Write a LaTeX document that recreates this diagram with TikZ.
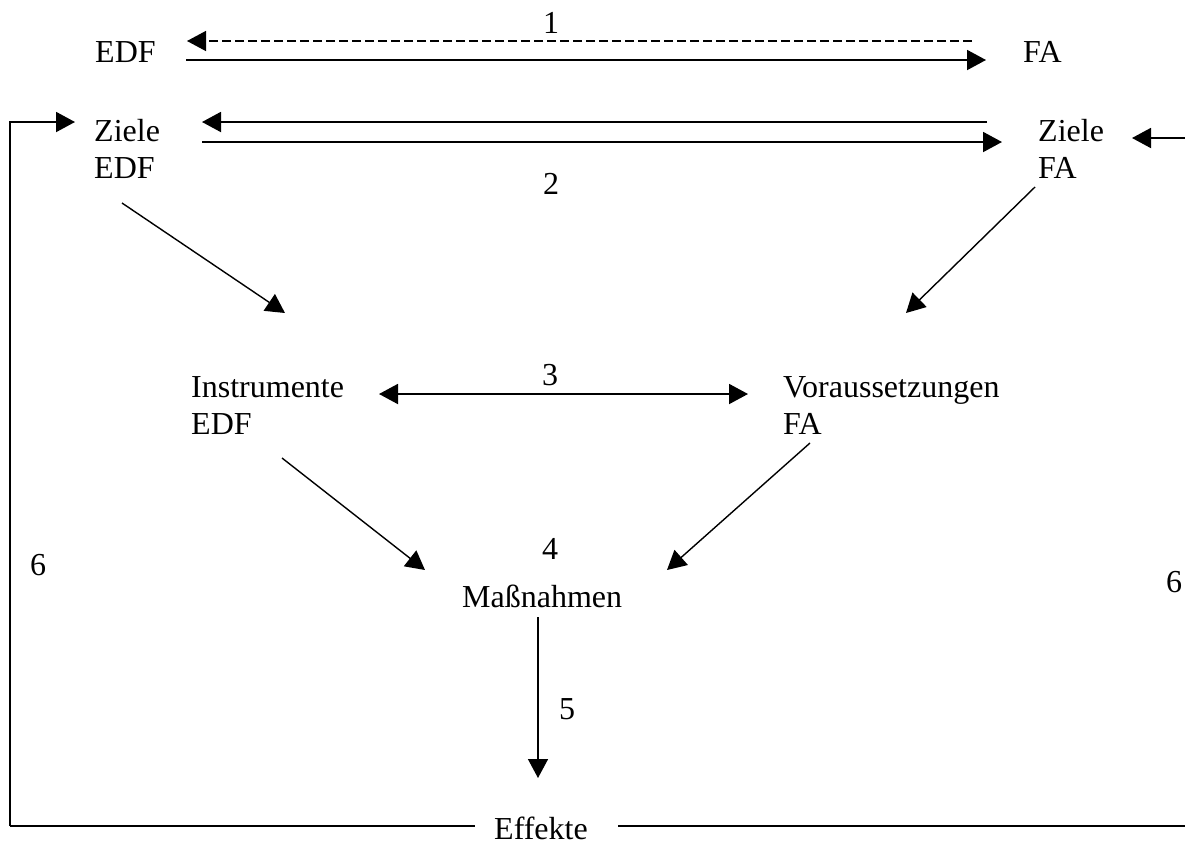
\documentclass[tikz,border=0pt]{standalone}
\usepackage{fontspec}
\setmainfont{Liberation Serif}
\usetikzlibrary{arrows.meta}
\begin{document}
\begin{tikzpicture}[x=1pt,y=-1pt,
  lbl/.style={inner sep=0pt,anchor=base west,font=\fontsize{32}{37}\selectfont},
  num/.style={inner sep=0pt,anchor=base,font=\fontsize{32}{37}\selectfont},
  tip/.style={-{Triangle[length=19pt,width=20pt]}},
  thick line/.style={line width=1.9pt},
  thin line/.style={line width=1.4pt}]
\useasboundingbox (0,0) rectangle (1185,847);
% text nodes
\node[lbl] (edf) at (95,62) {EDF};
\node[lbl] (fa) at (1023,62) {FA};
\node[num] (n1) at (551,33) {1};
\node[lbl] (zE1) at (94,141) {Ziele};
\node[lbl] (zE2) at (94,178) {EDF};
\node[lbl] (zF1) at (1038,141) {Ziele};
\node[lbl] (zF2) at (1038,178) {FA};
\node[num] (n2) at (551,194) {2};
\node[lbl] (iE1) at (191,397) {Instrumente};
\node[lbl] (iE2) at (191,434) {EDF};
\node[lbl] (vF1) at (783,397) {Voraussetzungen};
\node[lbl] (vF2) at (783,434) {FA};
\node[num] (n3) at (550,385) {3};
\node[num] (n4) at (550,559) {4};
\node[lbl] (mass) at (462,607) {Maßnahmen};
\node[lbl] (n5) at (559,719) {5};
\node[num] (n6l) at (38,575) {6};
\node[num] (n6r) at (1174,592) {6};
\node[lbl] (eff) at (494,839) {Effekte};
% connector end points
\coordinate (d1s) at (972,41);
\coordinate (d1e) at (187,41);
\coordinate (s1s) at (186,60);
\coordinate (s1e) at (986,60);
\coordinate (z2us) at (987,122);
\coordinate (z2ue) at (202,122);
\coordinate (z2ls) at (202,142);
\coordinate (z2le) at (1002,142);
\coordinate (lb) at (10,826);
\coordinate (lt) at (10,122);
\coordinate (lend) at (75,122);
\coordinate (bl) at (475,826);
\coordinate (br) at (618,826);
\coordinate (brr) at (1185,826);
\coordinate (rs) at (1185,138);
\coordinate (re) at (1132,138);
\coordinate (a1s) at (122,203);
\coordinate (a1e) at (285,313);
\coordinate (a2s) at (1035,187);
\coordinate (a2e) at (906,313);
\coordinate (i3l) at (379,394);
\coordinate (i3r) at (748,394);
\coordinate (a3s) at (282,458);
\coordinate (a3e) at (425,570);
\coordinate (a4s) at (810,443);
\coordinate (a4e) at (667,570);
\coordinate (m5s) at (538,617);
\coordinate (m5e) at (538,778);
% connectors
\draw[tip,thin line,dash pattern=on 9pt off 4pt] (d1s) -- (d1e);
\draw[tip,thick line] (s1s) -- (s1e);
\draw[tip,thick line] (z2us) -- (z2ue);
\draw[tip,thick line] (z2ls) -- (z2le);
\draw[tip,thick line] (lb) -- (lt) -- (lend);
\draw[thick line] (lb) -- (bl);
\draw[thick line] (br) -- (brr);
\draw[tip,thick line] (rs) -- (re);
\draw[tip,thin line] (a1s) -- (a1e);
\draw[tip,thin line] (a2s) -- (a2e);
\draw[{Triangle[length=19pt,width=20pt]}-{Triangle[length=19pt,width=20pt]},thick line] (i3l) -- (i3r);
\draw[tip,thin line] (a3s) -- (a3e);
\draw[tip,thin line] (a4s) -- (a4e);
\draw[tip,thin line] (m5s) -- (m5e);
\end{tikzpicture}
\end{document}
